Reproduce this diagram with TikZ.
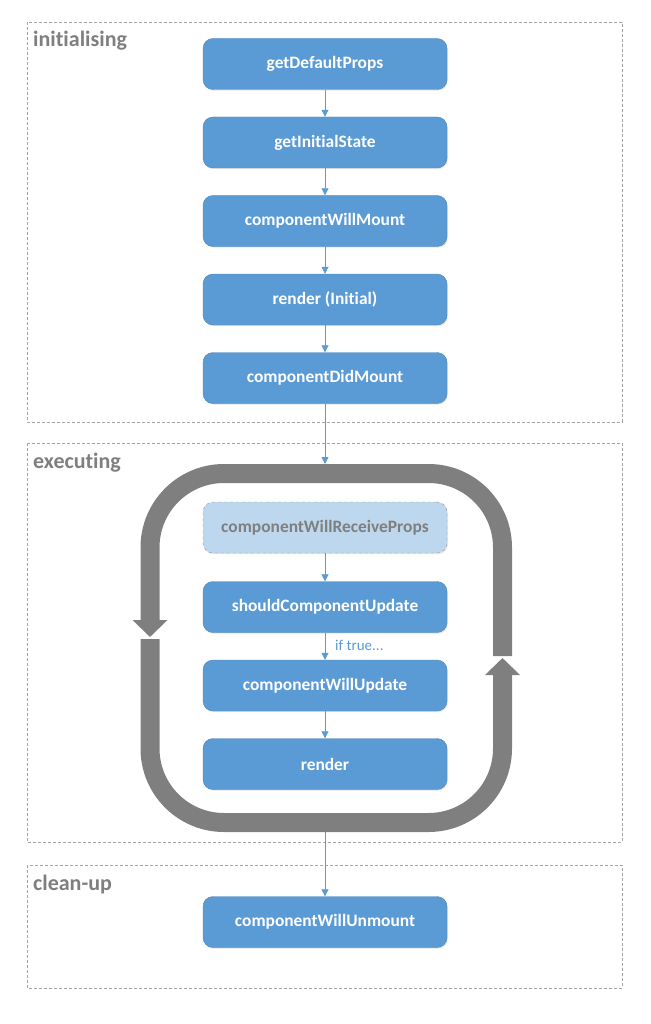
\documentclass[tikz,border=0pt]{standalone}
\usepackage{fontspec}
\setmainfont[Ligatures=NoCommon]{Carlito}
\usetikzlibrary{positioning,arrows.meta,shadows}

\begin{document}
\begin{tikzpicture}[x=1pt,y=-1pt]
					\definecolor{lcblue}{RGB}{91,155,213}
					\definecolor{lclight}{RGB}{189,215,238}
					\definecolor{lcgray}{RGB}{127,127,127}
					\tikzset{
						stage/.style={
							draw=lcgray!70,
							line width=0.6pt,
							dashed,
							dash pattern=on 3pt off 2pt
						},
						stagelbl/.style={
							anchor=base west,
							inner sep=0pt,
							text=lcgray,
							font=\fontsize{22}{24}\selectfont\bfseries
						},
						hook/.style={
							rectangle,
							rounded corners=10pt,
							fill=lcblue,
							draw=lcblue!85!black,
							line width=0.4pt,
							minimum width=244pt,
							minimum height=51pt,
							text=white,
							font=\fontsize{17.4}{19}\selectfont\bfseries,
							drop shadow={opacity=0.2, shadow xshift=0.8pt, shadow yshift=-1.2pt}
						},
						opthook/.style={
							hook,
							fill=lclight,
							draw=lcgray!80,
							dashed,
							text=lcgray
						},
						flow/.style={
							draw=lcblue,
							line width=0.8pt,
							-{Triangle[width=7pt,length=7pt]}
						},
						cyc/.style={
							draw=lcgray,
							line width=19pt,
							rounded corners=74pt,
							-{Triangle[width=34pt,length=17pt]}
						}
					}
					\useasboundingbox (0,0) rectangle (650,1024);
					
					% ======= Stage boxes =======
					\draw[stage] (27,22) rectangle (622,422);
					\draw[stage] (27,443) rectangle (622,842);
					\draw[stage] (27,865) rectangle (622,988);
					
					\node[stagelbl] (lblinit) at (33,47) {initialising};
					\node[stagelbl] (lblexec) at (33,468) {executing};
					\node[stagelbl] (lblclean) at (33,890) {clean-up};
					
					% ======= initialising =======
					\node[hook] (dp) at (325,64) {getDefaultProps};
					\node[hook] (is) at (325,142.5) {getInitialState};
					\node[hook] (wm) at (325,221) {componentWillMount};
					\node[hook] (ri) at (325,299.5) {render (Initial)};
					\node[hook] (dm) at (325,378) {componentDidMount};
					
					\draw[flow] (dp) -- (is);
					\draw[flow] (is) -- (wm);
					\draw[flow] (wm) -- (ri);
					\draw[flow] (ri) -- (dm);
					
					% ======= executing: loop ring =======
					\draw[cyc] (502.5,656) -- (502.5,473.5) -- (150,473.5) -- (150,637);
					\draw[cyc] (150,639) -- (150,822.5) -- (502.5,822.5) -- (502.5,658);
					
					\coordinate (looptop) at (325,464);
					\coordinate (loopbot) at (325,832);
					\draw[flow] (dm) -- (looptop);
					
					\node[opthook] (wrp) at (325,527.5) {componentWillReceiveProps};
					\node[hook] (scu) at (325,607) {shouldComponentUpdate};
					\node[hook] (wu) at (325,685.5) {componentWillUpdate};
					\node[hook] (rd) at (325,764) {render};
					
					\draw[flow] (wrp) -- (scu);
					\draw[flow] (scu) -- (wu);
					\draw[flow] (wu) -- (rd);
					\node[anchor=west, inner sep=0pt, text=lcblue, font=\fontsize{15}{17}\selectfont] (iftrue) at (335,645) {if true...};
					
					% ======= clean-up =======
					\node[hook] (wum) at (325,922) {componentWillUnmount};
					\draw[flow] (loopbot) -- (wum);
				\end{tikzpicture}
\end{document}
